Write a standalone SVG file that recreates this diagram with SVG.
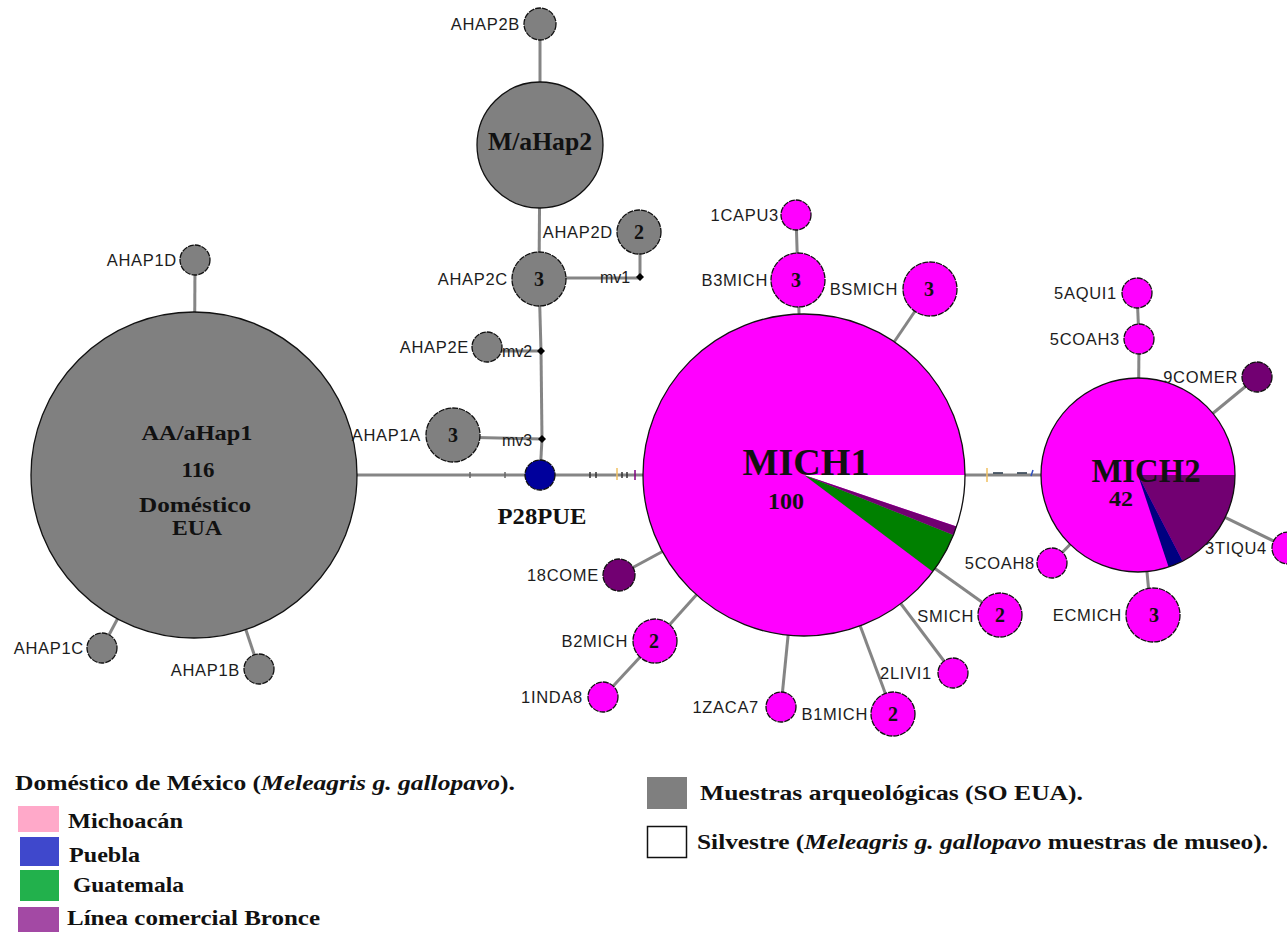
<svg xmlns="http://www.w3.org/2000/svg" width="1287" height="932" viewBox="0 0 1287 932">
<style>
.edge{stroke:#858585;stroke-width:3;fill:none}
.tick{stroke-width:1.5}
.nd{stroke:#111;stroke-width:1.3;stroke-dasharray:6 1}
.big{stroke:#111;stroke-width:1.3}
.gray{fill:#808080}
.mag{fill:#FF00FF}
.pur{fill:#720072}
.lbl{font-family:"Liberation Sans",Arial,sans-serif;font-size:16.5px;letter-spacing:0.7px;fill:#1c1c1c;text-anchor:end}
.mv{font-family:"Liberation Sans",Arial,sans-serif;font-size:16px;fill:#1c1c1c}
.num{font-family:"Liberation Serif","Times New Roman",serif;font-weight:bold;font-size:20px;fill:#111;text-anchor:middle}
.bt{font-family:"Liberation Serif","Times New Roman",serif;font-weight:bold;fill:#111;text-anchor:middle}
.leg{font-family:"Liberation Serif","Times New Roman",serif;font-weight:bold;font-size:22px;fill:#111}
</style>
<rect width="1287" height="932" fill="#fff"/>
<g id="connectors">
<line class="edge" x1="540" y1="24" x2="540" y2="145"/>
<line class="edge" x1="540" y1="145" x2="539" y2="279"/>
<line class="edge" x1="539" y1="279" x2="541" y2="351"/>
<line class="edge" x1="541" y1="351" x2="542" y2="439"/>
<line class="edge" x1="542" y1="439" x2="540" y2="475"/>
<line class="edge" x1="539" y1="278" x2="640" y2="278"/>
<line class="edge" x1="640" y1="278" x2="640" y2="232"/>
<line class="edge" x1="487" y1="351" x2="541" y2="351"/>
<line class="edge" x1="453" y1="437" x2="542" y2="439"/>
<line class="edge" x1="194" y1="475" x2="540" y2="475"/>
<line class="edge" x1="540" y1="475" x2="804" y2="475"/>
<line class="edge" x1="804" y1="475" x2="1138" y2="475"/>
<line class="edge" x1="194" y1="475" x2="195" y2="260"/>
<line class="edge" x1="194" y1="475" x2="102" y2="648"/>
<line class="edge" x1="194" y1="475" x2="259" y2="669"/>
<line class="edge" x1="804" y1="475" x2="798" y2="280"/>
<line class="edge" x1="798" y1="280" x2="796" y2="215"/>
<line class="edge" x1="804" y1="475" x2="930" y2="289"/>
<line class="edge" x1="804" y1="475" x2="619" y2="575"/>
<line class="edge" x1="804" y1="475" x2="655" y2="641"/>
<line class="edge" x1="655" y1="641" x2="603" y2="697"/>
<line class="edge" x1="804" y1="475" x2="781" y2="707"/>
<line class="edge" x1="804" y1="475" x2="893" y2="714"/>
<line class="edge" x1="804" y1="475" x2="953" y2="673"/>
<line class="edge" x1="804" y1="475" x2="1000" y2="615"/>
<line class="edge" x1="1138" y1="475" x2="1139" y2="339"/>
<line class="edge" x1="1139" y1="339" x2="1137" y2="293"/>
<line class="edge" x1="1138" y1="475" x2="1257" y2="377"/>
<line class="edge" x1="1138" y1="475" x2="1288" y2="548"/>
<line class="edge" x1="1138" y1="475" x2="1151" y2="615"/>
<line class="edge" x1="1138" y1="475" x2="1052" y2="563"/>
<g class="tick">
<line x1="590" y1="472" x2="590" y2="478" stroke="#333"/>
<line x1="596" y1="472" x2="596" y2="478" stroke="#333"/>
<line x1="617" y1="468" x2="617" y2="480" stroke="#f0c060"/>
<line x1="622" y1="472" x2="622" y2="478" stroke="#333"/>
<line x1="627" y1="472" x2="627" y2="478" stroke="#333"/>
<line x1="635" y1="470" x2="635" y2="480" stroke="#800080"/>
<line x1="987" y1="468" x2="987" y2="482" stroke="#f0c060"/>
<line x1="993" y1="473" x2="1003" y2="473" stroke="#234"/>
<line x1="1017" y1="473" x2="1027" y2="473" stroke="#234"/>
<line x1="1033" y1="470" x2="1031" y2="476" stroke="#3050c0"/>
<line x1="470" y1="472" x2="470" y2="478" stroke="#666"/>
<line x1="505" y1="472" x2="505" y2="478" stroke="#666"/>
</g>
</g>
<g id="AA_aHap1">
<circle class="big gray" cx="194" cy="475" r="163"/>
<text class="bt" x="197" y="440" font-size="22" textLength="111" lengthAdjust="spacingAndGlyphs">AA/aHap1</text>
<text class="bt" x="198" y="477" font-size="21" textLength="33" lengthAdjust="spacingAndGlyphs">116</text>
<text class="bt" x="195" y="512" font-size="22" textLength="112" lengthAdjust="spacingAndGlyphs">Doméstico</text>
<text class="bt" x="197" y="535" font-size="22" textLength="50" lengthAdjust="spacingAndGlyphs">EUA</text>
</g>
<g id="AHAP1D"><circle class="nd gray" cx="195" cy="260" r="15"/><text class="lbl" x="177" y="266">AHAP1D</text></g>
<g id="AHAP1C"><circle class="nd gray" cx="102" cy="648" r="15"/><text class="lbl" x="84" y="654">AHAP1C</text></g>
<g id="AHAP1B"><circle class="nd gray" cx="259" cy="669" r="15"/><text class="lbl" x="240" y="676">AHAP1B</text></g>
<g id="M_aHap2">
<circle class="big gray" cx="540" cy="145" r="63"/>
<text class="bt" x="540" y="150" font-size="26" textLength="104" lengthAdjust="spacingAndGlyphs">M/aHap2</text>
</g>
<g id="AHAP2B"><circle class="nd gray" cx="540" cy="24" r="16"/><text class="lbl" x="520" y="30">AHAP2B</text></g>
<g id="AHAP2C"><circle class="nd gray" cx="539" cy="279" r="27"/><text class="num" x="539" y="286">3</text><text class="lbl" x="508" y="285">AHAP2C</text></g>
<g id="AHAP2D"><circle class="nd gray" cx="639" cy="232" r="22"/><text class="num" x="639" y="239">2</text><text class="lbl" x="613" y="238">AHAP2D</text></g>
<g id="AHAP2E"><circle class="nd gray" cx="487" cy="347" r="15"/><text class="lbl" x="469" y="353">AHAP2E</text></g>
<g id="AHAP1A"><circle class="nd gray" cx="453" cy="435" r="27"/><text class="num" x="453" y="442">3</text><text class="lbl" x="421" y="441">AHAP1A</text></g>
<g id="mv1"><polygon points="640,273 644,277 640,281 636,277" fill="#000"/><text class="mv" x="600" y="283">mv1</text></g>
<g id="mv2"><polygon points="541,347 545,351 541,355 537,351" fill="#000"/><text class="mv" x="502" y="357">mv2</text></g>
<g id="mv3"><polygon points="542,435 546,439 542,443 538,439" fill="#000"/><text class="mv" x="502" y="446">mv3</text></g>
<g id="P28PUE">
<circle class="nd" cx="540" cy="475" r="15" fill="#00009C"/>
<text class="bt" x="542" y="524" font-size="24" textLength="89" lengthAdjust="spacingAndGlyphs">P28PUE</text>
</g>
<g id="MICH1">
<circle class="mag" cx="804" cy="475" r="161"/>
<path d="M804,475 L965,475 A161,161 0 0,1 956.5,526.6 Z" fill="#fff"/>
<path d="M804,475 L956.5,526.6 A161,161 0 0,1 953.4,535.1 Z" fill="#720072"/>
<path d="M804,475 L953.4,535.1 A161,161 0 0,1 932.8,571.7 Z" fill="#008000"/>
<circle class="big" cx="804" cy="475" r="161" fill="none"/>
<text class="bt" x="806" y="475" font-size="38" textLength="127" lengthAdjust="spacingAndGlyphs">MICH1</text>
<text class="bt" x="786" y="509" font-size="23" textLength="36" lengthAdjust="spacingAndGlyphs">100</text>
</g>
<g id="N1CAPU3"><circle class="nd mag" cx="796" cy="215" r="15"/><text class="lbl" x="779" y="221">1CAPU3</text></g>
<g id="B3MICH"><circle class="nd mag" cx="798" cy="280" r="27"/><text class="num" x="796" y="287">3</text><text class="lbl" x="768" y="286">B3MICH</text></g>
<g id="BSMICH"><circle class="nd mag" cx="930" cy="289" r="27"/><text class="num" x="929" y="296">3</text><text class="lbl" x="898" y="295">BSMICH</text></g>
<g id="N18COME"><circle class="nd pur" cx="619" cy="575" r="16"/><text class="lbl" x="599" y="581">18COME</text></g>
<g id="B2MICH"><circle class="nd mag" cx="655" cy="641" r="22"/><text class="num" x="654" y="648">2</text><text class="lbl" x="628" y="647">B2MICH</text></g>
<g id="N1INDA8"><circle class="nd mag" cx="603" cy="697" r="15"/><text class="lbl" x="583" y="703">1INDA8</text></g>
<g id="N1ZACA7"><circle class="nd mag" cx="781" cy="707" r="15"/><text class="lbl" x="759" y="713">1ZACA7</text></g>
<g id="B1MICH"><circle class="nd mag" cx="893" cy="714" r="22"/><text class="num" x="893" y="721">2</text><text class="lbl" x="868" y="720">B1MICH</text></g>
<g id="N2LIVI1"><circle class="nd mag" cx="953" cy="673" r="15"/><text class="lbl" x="932" y="679">2LIVI1</text></g>
<g id="SMICH"><circle class="nd mag" cx="1000" cy="615" r="22"/><text class="num" x="1000" y="622">2</text><text class="lbl" x="974" y="622">SMICH</text></g>
<g id="MICH2">
<circle class="mag" cx="1138" cy="475" r="97"/>
<path d="M1138,475 L1235,475 A97,97 0 0,1 1182.6,561.1 Z" fill="#720072"/>
<path d="M1138,475 L1182.6,561.1 A97,97 0 0,1 1168.6,567 Z" fill="#000080"/>
<circle class="big" cx="1138" cy="475" r="97" fill="none"/>
<text class="bt" x="1146" y="482" font-size="33" textLength="109" lengthAdjust="spacingAndGlyphs">MICH2</text>
<text class="bt" x="1121" y="506" font-size="22" textLength="24" lengthAdjust="spacingAndGlyphs">42</text>
</g>
<g id="N5COAH8"><circle class="nd mag" cx="1052" cy="563" r="15"/><text class="lbl" x="1035" y="569">5COAH8</text></g>
<g id="N5COAH3"><circle class="nd mag" cx="1139" cy="339" r="15"/><text class="lbl" x="1120" y="345">5COAH3</text></g>
<g id="N5AQUI1"><circle class="nd mag" cx="1137" cy="293" r="15"/><text class="lbl" x="1117" y="299">5AQUI1</text></g>
<g id="N9COMER"><circle class="nd pur" cx="1257" cy="377" r="15"/><text class="lbl" x="1238" y="383">9COMER</text></g>
<g id="N3TIQU4"><circle class="nd mag" cx="1288" cy="548" r="16"/><text class="lbl" x="1267" y="554">3TIQU4</text></g>
<g id="ECMICH"><circle class="nd mag" cx="1153" cy="615" r="27"/><text class="num" x="1154" y="622">3</text><text class="lbl" x="1122" y="621">ECMICH</text></g>
<g id="legend">
<text class="leg" x="15" y="790" textLength="500" lengthAdjust="spacingAndGlyphs">Doméstico de México (<tspan font-style="italic">Meleagris g. gallopavo</tspan>).</text>
<rect x="18" y="806" width="41" height="26" fill="#FFA9C9"/>
<text class="leg" x="68" y="828" textLength="115" lengthAdjust="spacingAndGlyphs">Michoacán</text>
<rect x="20" y="837" width="39" height="29" fill="#3F48CC"/>
<text class="leg" x="69" y="862" textLength="71" lengthAdjust="spacingAndGlyphs">Puebla</text>
<rect x="20" y="870" width="39" height="31" fill="#22B14C"/>
<text class="leg" x="73" y="892" textLength="111" lengthAdjust="spacingAndGlyphs">Guatemala</text>
<rect x="18" y="907" width="41" height="25" fill="#A349A4"/>
<text class="leg" x="67" y="925" textLength="253" lengthAdjust="spacingAndGlyphs">Línea comercial Bronce</text>
<rect x="647" y="777" width="40" height="32" fill="#7F7F7F"/>
<text class="leg" x="700" y="800" textLength="383" lengthAdjust="spacingAndGlyphs">Muestras arqueológicas (SO EUA).</text>
<rect x="647.5" y="826.5" width="39" height="31" fill="#fff" stroke="#111" stroke-width="1.5"/>
<text class="leg" x="697" y="849" textLength="571" lengthAdjust="spacingAndGlyphs">Silvestre (<tspan font-style="italic">Meleagris g. gallopavo</tspan> muestras de museo).</text>
</g>
</svg>
